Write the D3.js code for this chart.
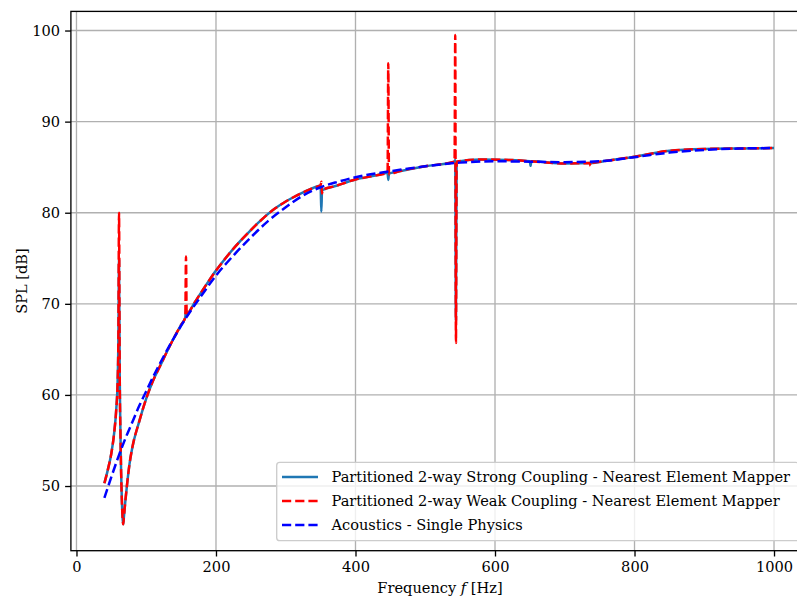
<!DOCTYPE html>
<html>
<head>
<meta charset="utf-8">
<script src="https://cdn.jsdelivr.net/npm/d3@7"></script>
<style>
  body { margin: 0; background: #fff; }
  svg { display: block; }
  text { font-family: "DejaVu Serif", "Liberation Serif", serif; fill: #000; }
</style>
</head>
<body>
<svg id="chart" width="797" height="597"></svg>
<script>
// Partitioned 2-way strong coupling (nearest element mapper)
const strongFreq = [40,45,50,54,57,59,60,61,62,63,64,65,66,67,68,70,72,76,80,90,100,110,120,130,140,150,156,157,158,160,170,180,190,200,210,220,235,250,260,273,285,300,311,325,340,350,351,352,353,370,400,430,446,447,448,460,500,542,543,544,545,580,620,650,651,652,700,737,760,800,850,900,950,1000];
const strongSPL  = [50.3,51.8,53.6,55.8,58.4,61.5,65.5,74.8,62.0,56.0,51.5,48.6,46.6,45.8,46.6,48.3,49.8,52.4,54.2,57.1,59.6,61.6,63.2,64.8,66.3,67.7,68.5,69.4,68.65,68.9,70.2,71.4,72.55,73.65,74.65,75.6,76.9,78.1,78.85,79.76,80.48,81.23,81.7,82.23,82.74,83.0,80.1,82.4,82.5,82.9,83.65,84.1,84.4,83.6,84.3,84.5,85.1,85.6,85.8,68.2,85.6,85.85,85.8,85.65,85.15,85.65,85.4,85.45,85.7,86.15,86.8,87.0,87.05,87.1];

// Partitioned 2-way weak coupling (nearest element mapper)
const weakFreq = [40,45,50,54,57,59,60,61,62,63,64,65,66,67,68,70,72,76,80,90,100,110,120,130,140,150,156,157,158,160,170,180,190,200,210,220,235,250,260,273,285,300,311,325,340,350,351,352,353,370,400,430,446,447,448,460,500,542,543,544,545,580,620,660,700,736,737,738,760,800,850,900,950,1000];
const weakSPL  = [50.3,51.8,53.6,55.8,58.4,61.5,65.5,80.0,62.0,56.0,51.5,48.6,46.6,45.8,46.6,48.3,49.8,52.4,54.2,57.1,59.6,61.6,63.2,64.8,66.3,67.7,68.5,75.2,68.65,68.9,70.2,71.4,72.55,73.65,74.65,75.6,76.9,78.1,78.85,79.76,80.48,81.23,81.7,82.23,82.74,83.0,83.4,82.1,82.5,82.9,83.65,84.1,84.4,96.4,84.2,84.5,85.1,85.6,99.5,65.7,85.6,85.85,85.8,85.6,85.4,85.45,85.15,85.45,85.7,86.15,86.8,87.0,87.05,87.1];

// Acoustics - single physics reference
const acFreq = [40,50,60,70,80,90,100,110,120,140,160,180,200,225,250,275,300,325,350,375,400,450,500,550,600,650,700,750,800,850,900,950,1000];
const acSPL  = [48.7,51.0,53.2,55.2,57.0,58.8,60.4,62.0,63.5,66.3,68.8,71.0,73.1,75.3,77.3,79.1,80.6,81.9,82.8,83.4,83.9,84.55,85.1,85.5,85.65,85.6,85.55,85.65,86.1,86.6,86.9,87.05,87.1];

const xTicks = [0,200,400,600,800,1000];
const yTicks = [50,60,70,80,90,100];
const legendLabels = [
  "Partitioned 2-way Strong Coupling - Nearest Element Mapper",
  "Partitioned 2-way Weak Coupling - Nearest Element Mapper",
  "Acoustics - Single Physics"
];

const svg = d3.select("#chart");
const plot = { left: 70.9, right: 807.5, top: 11.4, bottom: 550.7 };

const x = d3.scaleLinear().domain([-8, 1048]).range([plot.left, plot.right]);
const y = d3.scaleLinear().domain([42.9, 102.1]).range([plot.bottom, plot.top]);

// grid
const grid = svg.append("g").attr("stroke", "#b0b0b0").attr("stroke-width", 1.33);
xTicks.forEach(t => grid.append("line").attr("x1", x(t)).attr("x2", x(t)).attr("y1", plot.top).attr("y2", plot.bottom));
yTicks.forEach(t => grid.append("line").attr("x1", plot.left).attr("x2", plot.right).attr("y1", y(t)).attr("y2", y(t)));

const line = d3.line().curve(d3.curveMonotoneX).x(d => x(d[0])).y(d => y(d[1]));
const zip = (a, b) => a.map((v, i) => [v, b[i]]);

svg.append("clipPath").attr("id", "plotclip").append("rect")
  .attr("x", plot.left).attr("y", plot.top).attr("width", plot.right - plot.left).attr("height", plot.bottom - plot.top);

const series = [
  { data: zip(strongFreq, strongSPL), color: "#1f77b4", dash: null },
  { data: zip(weakFreq, weakSPL), color: "#ff0000", dash: "9.2,4" },
  { data: zip(acFreq, acSPL), color: "#0000ff", dash: "9.2,4" }
];

const lines = svg.append("g").attr("clip-path", "url(#plotclip)");
series.forEach(s => {
  lines.append("path").datum(s.data)
    .attr("d", line)
    .attr("fill", "none")
    .attr("stroke", s.color)
    .attr("stroke-width", 2.5)
    .attr("stroke-linejoin", "round")
    .attr("stroke-dasharray", s.dash);
});

// spines
svg.append("rect")
  .attr("x", plot.left).attr("y", plot.top)
  .attr("width", plot.right - plot.left).attr("height", plot.bottom - plot.top)
  .attr("fill", "none").attr("stroke", "#000").attr("stroke-width", 1.33);

// axes
const xAxis = svg.append("g").attr("transform", `translate(0,${plot.bottom})`)
  .call(d3.axisBottom(x).tickValues(xTicks).tickSize(5.8).tickPadding(5).tickFormat(d3.format("d")));
const yAxis = svg.append("g").attr("transform", `translate(${plot.left},0)`)
  .call(d3.axisLeft(y).tickValues(yTicks).tickSize(5.8).tickPadding(5).tickFormat(d3.format("d")));
[xAxis, yAxis].forEach(g => {
  g.select(".domain").remove();
  g.selectAll(".tick line").attr("stroke", "#000").attr("stroke-width", 1.33);
  g.selectAll(".tick text").attr("font-family", null);
});

// legend
const legend = svg.append("g");
legend.append("rect")
  .attr("x", 276.7).attr("y", 462.4).attr("width", 522).attr("height", 78.3)
  .attr("rx", 3).attr("fill", "#fff").attr("fill-opacity", 0.8)
  .attr("stroke", "#cccccc").attr("stroke-width", 1.33);
const rowY = [477, 500.9, 525];
const lgTexts = legendLabels.map((lab, i) => {
  legend.append("line")
    .attr("x1", 282).attr("x2", 318).attr("y1", rowY[i]).attr("y2", rowY[i])
    .attr("stroke", series[i].color).attr("stroke-width", 2.5)
    .attr("stroke-dasharray", series[i].dash);
  return legend.append("text").attr("x", 331.5).attr("y", rowY[i]).attr("dy", "0.35em")
    .attr("font-size", 16).text(lab);
});

// size text so the legend's first entry spans its measured width
const w0 = lgTexts[0].node().getComputedTextLength();
const fs = 16 * 459 / w0;
lgTexts.forEach(t => t.attr("font-size", fs));
svg.selectAll(".tick text").attr("font-size", fs);

// axis labels
const xl = svg.append("text").attr("x", 440).attr("y", 588).attr("dy", "0.35em")
  .attr("text-anchor", "middle").attr("font-size", fs);
xl.append("tspan").text("Frequency ");
xl.append("tspan").attr("font-style", "italic").text("f");
xl.append("tspan").text(" [Hz]");

svg.append("text").attr("transform", `translate(22,${(plot.top + plot.bottom) / 2}) rotate(-90)`)
  .attr("dy", "0.35em").attr("text-anchor", "middle").attr("font-size", fs).text("SPL [dB]");
</script>
</body>
</html>
